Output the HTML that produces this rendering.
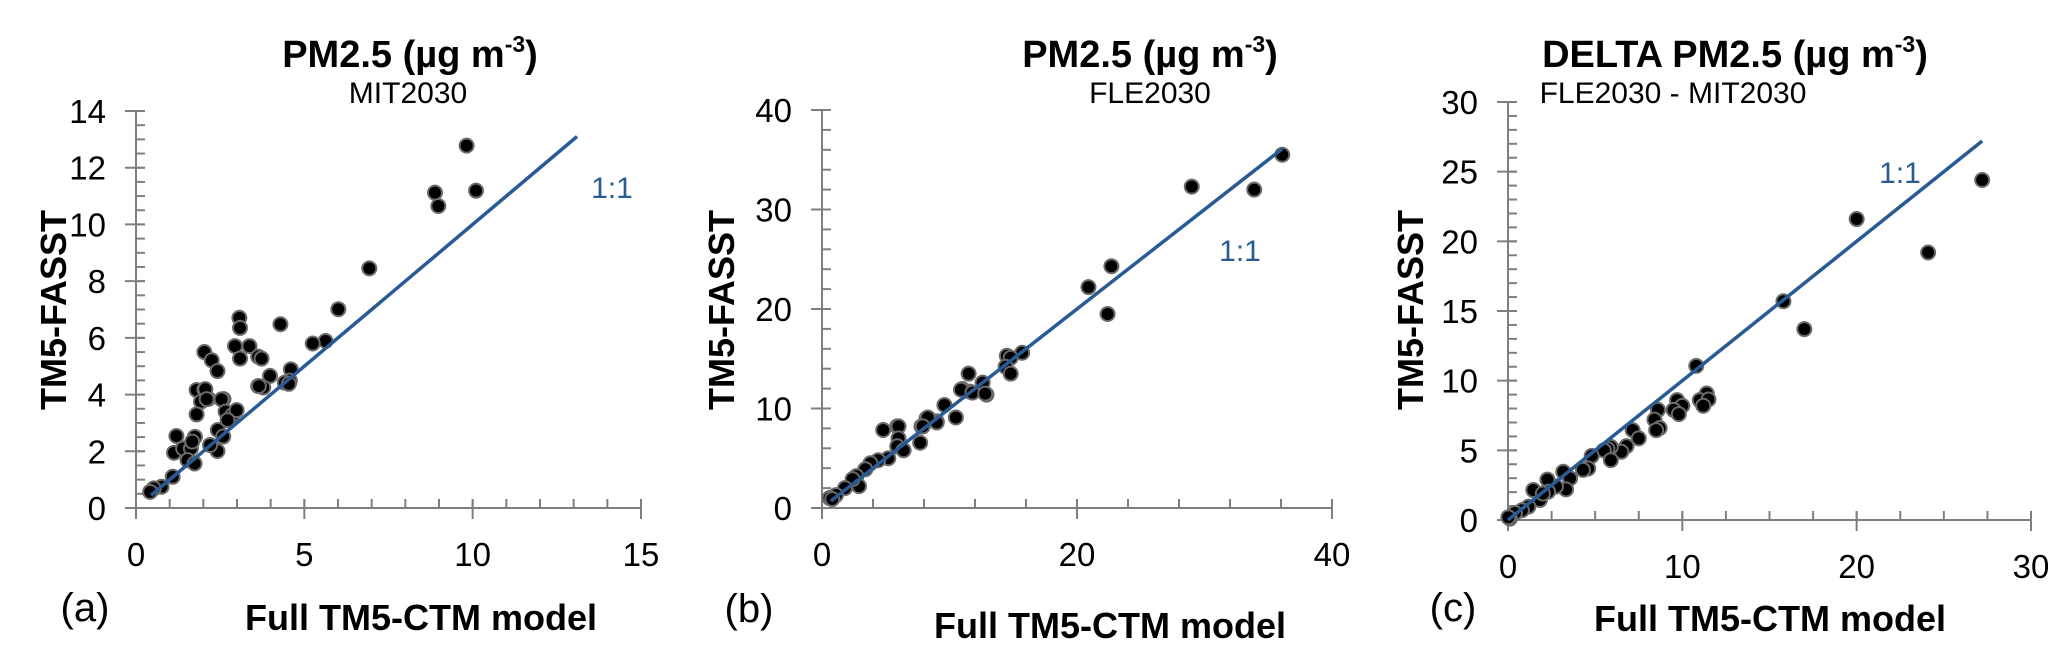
<!DOCTYPE html>
<html><head><meta charset="utf-8"><style>
body{margin:0;background:#fff;width:2067px;height:659px;overflow:hidden}
svg text{font-family:"Liberation Sans",sans-serif}
</style></head><body>
<svg id="fig" width="2067" height="659" viewBox="0 0 2067 659" xmlns="http://www.w3.org/2000/svg">
<g>
<text x="410" y="67" font-size="38" font-weight="bold" text-anchor="middle">PM2.5 (µg  m<tspan font-size="23" dy="-15">-3</tspan><tspan dy="15">)</tspan></text>
<text x="408" y="103" font-size="30" text-anchor="middle">MIT2030</text>
<text x="612" y="198" font-size="30" fill="#2a5a94" text-anchor="middle">1:1</text>
<text transform="translate(66,310) rotate(-90)" font-size="36" font-weight="bold" text-anchor="middle">TM5-FASST</text>
<text x="421" y="630" font-size="36" font-weight="bold" text-anchor="middle">Full TM5-CTM model</text>
<text x="85" y="621" font-size="40" text-anchor="middle">(a)</text>
</g>
<g>
<text x="1150" y="67" font-size="38" font-weight="bold" text-anchor="middle">PM2.5 (µg  m<tspan font-size="23" dy="-15">-3</tspan><tspan dy="15">)</tspan></text>
<text x="1150" y="103" font-size="30" text-anchor="middle">FLE2030</text>
<text x="1240" y="261" font-size="30" fill="#2a5a94" text-anchor="middle">1:1</text>
<text transform="translate(734,310) rotate(-90)" font-size="36" font-weight="bold" text-anchor="middle">TM5-FASST</text>
<text x="1110" y="638" font-size="36" font-weight="bold" text-anchor="middle">Full TM5-CTM model</text>
<text x="749" y="622" font-size="40" text-anchor="middle">(b)</text>
</g>
<g>
<text x="1735" y="67" font-size="38" font-weight="bold" text-anchor="middle">DELTA PM2.5 (µg  m<tspan font-size="23" dy="-15">-3</tspan><tspan dy="15">)</tspan></text>
<text x="1673" y="103" font-size="30" text-anchor="middle">FLE2030 - MIT2030</text>
<text x="1900" y="183" font-size="30" fill="#2a5a94" text-anchor="middle">1:1</text>
<text transform="translate(1423,310) rotate(-90)" font-size="36" font-weight="bold" text-anchor="middle">TM5-FASST</text>
<text x="1770" y="631" font-size="36" font-weight="bold" text-anchor="middle">Full TM5-CTM model</text>
<text x="1453" y="621" font-size="40" text-anchor="middle">(c)</text>
</g>
</svg>
<script>
// Panel (a) MIT2030
const aX=[9.82,8.88,8.98,10.1,6.93,6.01,4.29,5.63,5.25,3.07,3.09,2.94,3.37,3.09,3.63,3.73,2.03,2.25,2.42,3.98,4.6,4.57,4.42,3.63,3.78,1.8,2.03,1.93,2.15,2.6,1.8,2.06,2.1,2.54,2.66,2.86,2.99,2.72,2.43,2.59,2.42,2.2,1.2,1.13,1.4,1.63,1.75,1.67,1.53,1.74,1.09,0.76,0.53,0.42,3.65,4.54];
const aY=[12.78,11.12,10.65,11.19,8.45,7.01,6.48,5.89,5.8,6.71,6.35,5.71,5.71,5.27,5.34,5.27,5.5,5.21,4.83,4.66,4.89,4.49,4.42,4.3,4.25,4.16,4.18,3.75,3.85,3.84,3.3,4.19,3.84,3.83,3.4,3.28,3.45,3.1,2.75,2.52,2.01,2.22,2.54,1.95,2.1,2.1,2.51,2.34,1.69,1.57,1.1,0.75,0.69,0.57,4.3,4.38];
const aLine=[0.45,13.1];
const aXTicks=[0,5,10,15];
const aYTicks=[0,2,4,6,8,10,12,14];
// Panel (b) FLE2030
const bX=[20.9,15.7,14.5,14.8,14.4,14.8,11.5,12.6,11.0,11.6,12.9,9.6,10.5,9.0,8.2,7.8,4.8,5.9,10.9,11.8,12.8,9.0,8.3,7.9,7.7,6.0,6.0,5.9,6.4,5.2,4.4,3.8,3.4,2.7,2.9,2.4,1.8,1.1,0.6,0.8,36.1,33.9,29.0,22.7,22.4];
const bY=[22.2,15.6,15.3,15.1,14.2,13.5,13.5,12.6,11.96,11.7,11.4,10.35,9.1,8.7,9.0,8.2,7.84,8.2,11.9,11.6,11.5,8.6,9.1,8.2,6.56,8.2,7.0,6.2,5.8,5.0,4.8,4.5,3.9,3.2,2.2,2.9,2.0,1.3,1.0,0.9,35.5,32.0,32.3,24.3,19.5];
const bLine=[0.7,36.1];
const bXTicks=[0,20,40];
const bYTicks=[0,10,20,30,40];
// Panel (c) FLE2030 - MIT2030
const cX=[10.8,15.8,11.4,11.0,11.5,11.2,9.7,10.0,9.5,9.8,8.6,8.4,8.7,8.5,7.15,7.5,6.8,6.5,5.9,5.7,5.5,5.9,4.8,4.6,4.3,3.17,3.56,3.33,2.75,2.26,2.3,1.83,1.45,2.0,1.17,0.8,0.4,0.11,0.02,27.2,24.1,20.0,17.0];
const cY=[11.06,15.7,9.08,8.6,8.65,8.2,8.6,8.2,7.9,7.6,7.9,7.2,6.6,6.45,6.45,5.86,5.3,4.9,5.25,5.1,5.0,4.3,4.6,3.7,3.6,3.46,2.99,2.2,2.4,2.9,2.03,1.44,2.15,1.9,0.96,0.7,0.5,0.1,0.2,24.4,19.2,21.6,13.7];
const cLine=[0.0,27.2];
const cXTicks=[0,10,20,30];
const cYTicks=[0,5,10,15,20,25,30];

const NS='http://www.w3.org/2000/svg';
const svg=document.getElementById('fig');
function mk(tag,attrs,parent){const e=document.createElementNS(NS,tag);for(const k in attrs)e.setAttribute(k,attrs[k]);(parent||svg).appendChild(e);return e;}

function panel(id,cfg,xs,ys,line,xt,yt){
  const sx=v=>cfg.x0+(v-cfg.xmin)/(cfg.xmax-cfg.xmin)*(cfg.x1-cfg.x0);
  const sy=v=>cfg.y0-(v-cfg.ymin)/(cfg.ymax-cfg.ymin)*(cfg.y0-cfg.y1);
  const g=mk('g',{});
  
  
  const ax=mk('g',{stroke:'#7f7f7f','stroke-width':2},g);
  
  
  mk('line',{x1:sx(cfg.xmin),y1:sy(cfg.ymin),x2:sx(cfg.xmax),y2:sy(cfg.ymin)},ax);
  mk('line',{x1:sx(cfg.xmin),y1:sy(cfg.ymin),x2:sx(cfg.xmin),y2:sy(cfg.ymax)},ax);
  for(let v=cfg.xmin+cfg.xminor;v<=cfg.xmax+1e-9;v+=cfg.xminor){mk('line',{x1:sx(v),y1:sy(cfg.ymin),x2:sx(v),y2:sy(cfg.ymin)-9},ax);}
  for(let v=cfg.ymin+cfg.yminor;v<=cfg.ymax+1e-9;v+=cfg.yminor){mk('line',{x1:sx(cfg.xmin),y1:sy(v),x2:sx(cfg.xmin)+9,y2:sy(v)},ax);}
  xt.forEach(v=>{
    mk('line',{x1:sx(v),y1:sy(cfg.ymin)-9,x2:sx(v),y2:sy(cfg.ymin)+11},ax);
    const t=mk('text',{x:sx(v),y:sy(cfg.ymin)+58,'font-size':33,'text-anchor':'middle'},g);
    t.textContent=v;
    
    
  });
  yt.forEach(v=>{
    mk('line',{x1:sx(cfg.xmin)-11,y1:sy(v),x2:sx(cfg.xmin)+9,y2:sy(v)},ax);
    const t=mk('text',{x:sx(cfg.xmin)-30,y:sy(v)+12,'font-size':33,'text-anchor':'end'},g);
    t.textContent=v;
    
    
  });
  const pts=mk('g',{},g);
  
  
  xs.forEach((x,i)=>{
    const c=mk('circle',{cx:sx(x),cy:sy(ys[i]),r:7,fill:'#000',stroke:'#6a6a6a','stroke-width':2},pts);
    
    
  });
  const l=mk('line',{x1:sx(line[0]),y1:sy(line[0]),x2:sx(line[1]),y2:sy(line[1]),stroke:'#2a5a94','stroke-width':3.5},g);
  
  
}
panel('a',{x0:136,x1:641,xmin:0,xmax:15,y0:508,y1:111,ymin:0,ymax:14,xminor:1,yminor:0.5},aX,aY,aLine,aXTicks,aYTicks);
panel('b',{x0:822,x1:1332,xmin:0,xmax:40,y0:508,y1:110,ymin:0,ymax:40,xminor:4,yminor:2},bX,bY,bLine,bXTicks,bYTicks);
panel('c',{x0:1508,x1:2031,xmin:0,xmax:30,y0:520,y1:102,ymin:0,ymax:30,xminor:2.5,yminor:1},cX,cY,cLine,cXTicks,cYTicks);
</script>
</body></html>
